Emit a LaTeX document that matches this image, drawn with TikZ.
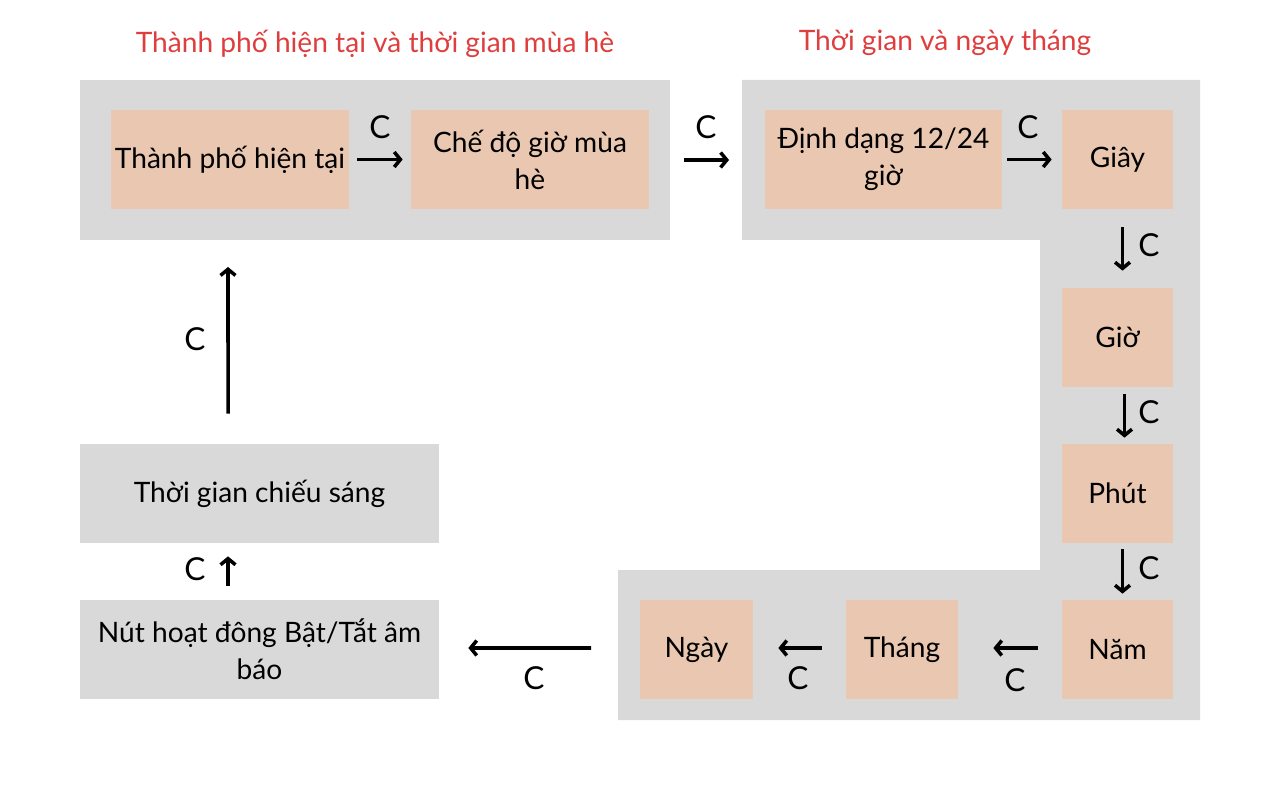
\documentclass[tikz,border=0pt]{standalone}
\usepackage{fontspec}
\setmainfont{Lato}
\usepackage{xcolor}
\usetikzlibrary{arrows.meta}
\definecolor{peach}{RGB}{234,199,176}
\definecolor{panel}{RGB}{217,217,217}
\definecolor{titlered}{RGB}{222,62,62}
\tikzset{
  box/.style={fill=peach, inner sep=0pt, align=center, minimum height=1.98cm},
  greybox/.style={fill=panel, inner sep=0pt, align=center, minimum width=7.18cm, minimum height=1.98cm},
  arr/.style={line width=2pt, -{Straight Barb[length=3.5pt,width=8.5pt]}},
  lbl/.style={inner sep=0pt, font=\fontsize{18}{20}\selectfont},
  title/.style={inner sep=0pt, text=titlered, font=\fontsize{16}{19}\selectfont}
}
\begin{document}
\begin{tikzpicture}[x=0.02cm, y=-0.02cm, every node/.append style={font=\fontsize{16}{21}\selectfont}]
\fill [white] (0,0) rectangle (1280,800);
% panels
\node [fill=panel, inner sep=0pt, minimum width=11.8cm, minimum height=3.2cm] (p1) at (375,160) {};
\coordinate (p2w) at (742,160);
\coordinate (p2s) at (618,648);
\fill [panel] (742,80) -- (1200,80) -- (1200,720) -- (618,720) -- (618,570)
  -- (1040,570) -- (1040,240) -- (742,240) -- cycle;
% titles
\node [title] (t1) at (375,44) {Thành phố hiện tại và thời gian mùa hè};
\node [title] (t2) at (945,43) {Thời gian và ngày tháng};
% boxes
\node [box, minimum width=4.76cm] (cur) at (230,159.5) {Thành phố hiện tại};
\node [box, minimum width=4.76cm] (dst) at (530,159.5) {Chế độ giờ mùa\\hè};
\node [box, minimum width=4.74cm] (fmt) at (883.5,159.5) {Định dạng 12/24\\giờ};
\node [box, minimum width=2.22cm] (sec) at (1117.5,159.5) {Giây};
\node [box, minimum width=2.22cm] (hr) at (1117.5,337.5) {Giờ};
\node [box, minimum width=2.22cm] (mnt) at (1117.5,493.5) {Phút};
\node [box, minimum width=2.22cm] (yr) at (1117.5,649.5) {Năm};
\node [box, minimum width=2.24cm] (mon) at (902,649.5) {Tháng};
\node [box, minimum width=2.26cm] (day) at (696.5,649.5) {Ngày};
\node [greybox] (btn) at (259.5,649.5) {Nút hoạt đông Bật/Tắt âm\\báo};
\node [greybox] (light) at (259.5,493.5) {Thời gian chiếu sáng};
% connectors
\draw [arr, shorten <=0.16cm, shorten >=0.16cm] (cur.east) -- (dst.west);
\draw [arr, shorten <=0.28cm, shorten >=0.26cm] (p1.east) -- (p2w);
\draw [arr, shorten <=0.10cm, shorten >=0.20cm] (fmt.east) -- (sec.west);
\draw [arr, shorten <=0.36cm, shorten >=0.34cm] ([xshift=0.1cm]sec.south) -- ([xshift=0.1cm]hr.north);
\draw [arr, shorten <=0.14cm, shorten >=0.12cm] ([xshift=0.14cm]hr.south) -- ([xshift=0.14cm]mnt.north);
\draw [arr, shorten <=0.12cm, shorten >=0.12cm] ([xshift=0.1cm]mnt.south) -- ([xshift=0.1cm]yr.north);
\draw [arr, shorten <=0.48cm, shorten >=0.70cm] ([yshift=0.03cm]yr.west) -- ([yshift=0.03cm]mon.east);
\draw [arr, shorten <=0.48cm, shorten >=0.50cm] ([yshift=0.03cm]mon.west) -- ([yshift=0.03cm]day.east);
\draw [arr, shorten <=0.54cm, shorten >=0.58cm] (p2s) -- ([yshift=0.03cm]btn.east);
\draw [arr, shorten <=0.28cm, shorten >=0.26cm] ([xshift=-0.63cm]btn.north) -- ([xshift=-0.63cm]light.south);
\draw [arr, shorten <=0.60cm, shorten >=0.54cm] ([xshift=-0.63cm]light.north) -- (228,240);
% labels
\node [lbl] (c1) at (380,127) {C};
\node [lbl] (c2) at (706,127) {C};
\node [lbl] (c3) at (1028,127) {C};
\node [lbl] (c4) at (1149,245) {C};
\node [lbl] (c5) at (1149,412) {C};
\node [lbl] (c6) at (1149,568) {C};
\node [lbl] (c7) at (1015,680) {C};
\node [lbl] (c8) at (798,678) {C};
\node [lbl] (c9) at (534,678) {C};
\node [lbl] (c10) at (195,569) {C};
\node [lbl] (c11) at (195,339) {C};
\end{tikzpicture}
\end{document}
